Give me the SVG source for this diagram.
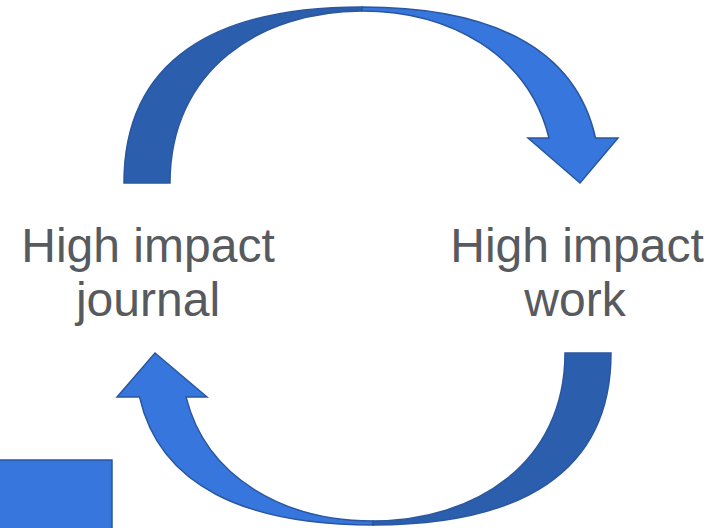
<svg xmlns="http://www.w3.org/2000/svg" width="715" height="528" viewBox="0 0 715 528">
<style>
.dark{fill:#2B5EAD;stroke:#2A579F;stroke-width:1.5;stroke-linejoin:miter}
.light{fill:#3676DD;stroke:#2A579F;stroke-width:1.5;stroke-linejoin:miter}
.lbl{font-family:"Liberation Sans",Arial,sans-serif;font-size:48px;fill:#575a5e;text-anchor:middle}
</style>
<defs>
<g id="curvedArrow">
<path class="dark" d="M124,183 C124,60 215,7 362,7 L362,11 C260,11 170,70 170,183 Z"/>
<path class="light" d="M362,7 C489.9,7 575.4,47.1 595.5,138 L618,138 L580,183 L528,138 L549,138 C528.6,54.6 449.7,11 362,11 Z"/>
</g>
</defs>
<g id="connectors">
<use id="arrow-top" href="#curvedArrow"/>
<use id="arrow-bottom" href="#curvedArrow" transform="matrix(-1 0 0 -0.9773 735 531.8)"/>
</g>
<g id="node-journal">
<text class="lbl" x="148" y="262">High impact</text>
<text class="lbl" x="148" y="316">journal</text>
</g>
<g id="node-work">
<text class="lbl" x="577" y="262">High impact</text>
<text class="lbl" x="575" y="316">work</text>
</g>
<g id="block">
<rect class="light" x="-2" y="460" width="114" height="72"/>
</g>
</svg>
